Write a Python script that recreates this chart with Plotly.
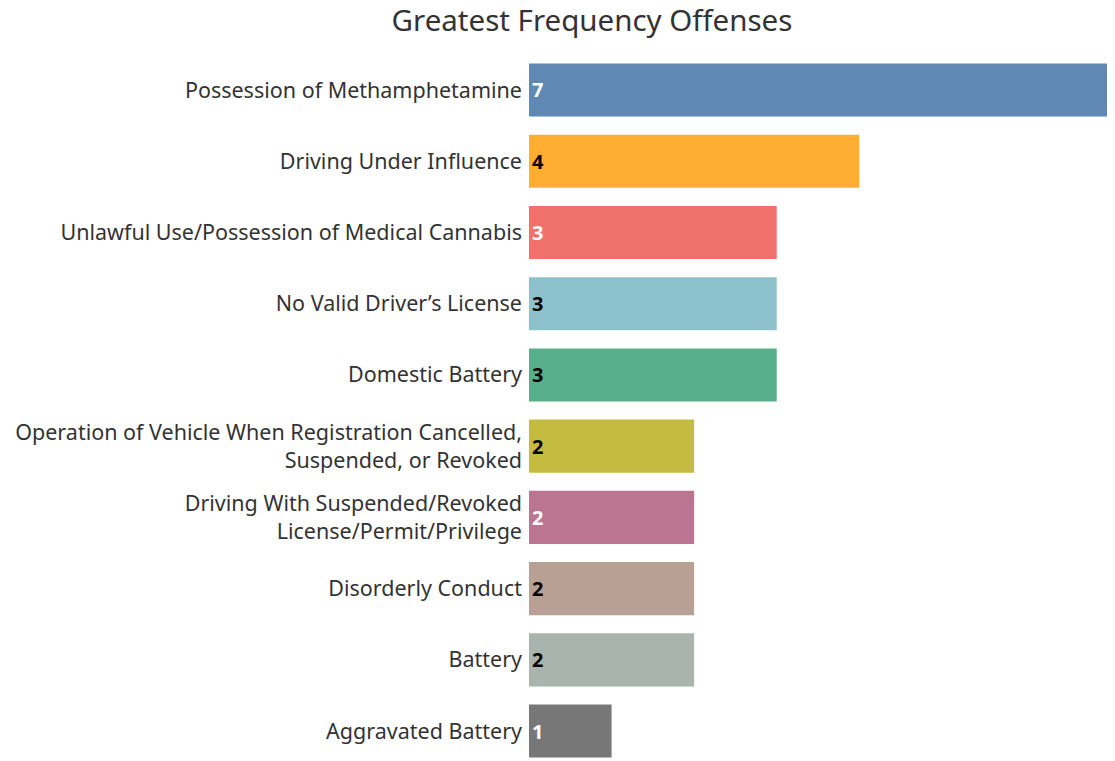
import plotly.graph_objects as go

offenses = [
    "Possession of Methamphetamine",
    "Driving Under Influence",
    "Unlawful Use/Possession of Medical Cannabis",
    "No Valid Driver\u2019s License",
    "Domestic Battery",
    "Operation of Vehicle When Registration Cancelled,<br>Suspended, or Revoked",
    "Driving With Suspended/Revoked<br>License/Permit/Privilege",
    "Disorderly Conduct",
    "Battery",
    "Aggravated Battery",
]
counts = [7, 4, 3, 3, 3, 2, 2, 2, 2, 1]
bar_colors = ["#6088b5", "#ffad33", "#f0716b", "#8dc2cc", "#57ae8a",
              "#c4bc40", "#bb7591", "#b9a094", "#a9b4ae", "#777777"]
label_colors = ["white", "black", "white", "black", "black",
                "black", "white", "black", "black", "white"]

FONT = "Noto Sans"

fig = go.Figure(go.Bar(
    x=counts,
    y=offenses,
    orientation="h",
    marker=dict(color=bar_colors, line=dict(width=0)),
    text=[str(c) for c in counts],
    textposition="inside",
    insidetextanchor="start",
    textfont=dict(family=FONT, size=20, color=label_colors, weight="bold"),
    textangle=0,
    cliponaxis=False,
    hoverinfo="x+y",
))

fig.update_layout(
    width=1115, height=761,
    margin=dict(l=521, r=16, t=46, b=8),
    paper_bgcolor="white",
    plot_bgcolor="white",
    bargap=0.255,
    showlegend=False,
    uniformtext=dict(minsize=18, mode="show"),
    font=dict(family=FONT, color="#333333"),
    title=dict(text="Greatest Frequency Offenses", x=584/1115, xanchor="center",
               y=1, yanchor="top", xref="container", yref="container",
               pad=dict(t=2, b=0, l=0, r=0),
               font=dict(family=FONT, size=29.5, color="#333333")),
)
fig.update_xaxes(range=[0, 7], visible=False, showgrid=False, zeroline=False)
fig.update_yaxes(range=[9.42, -0.505], showgrid=False, zeroline=False, showline=False,
                 ticks="", ticklabelstandoff=6,
                 tickfont=dict(family=FONT, size=21.5, color="#333333"))

fig.write_html("out.html")
